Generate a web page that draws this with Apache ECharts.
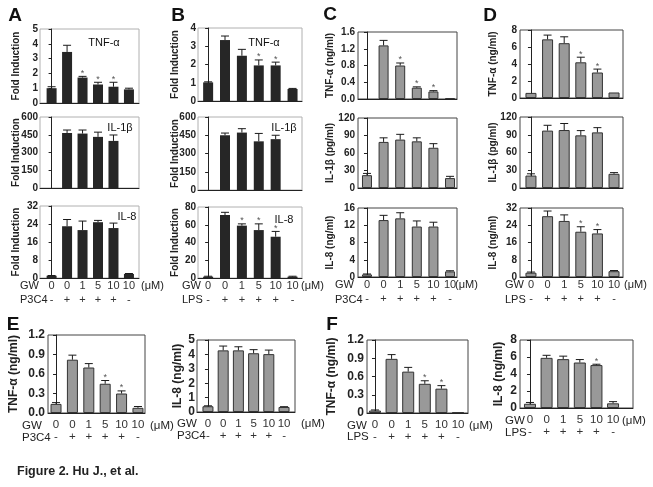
<!DOCTYPE html>
<html><head><meta charset="utf-8">
<script src="https://cdn.jsdelivr.net/npm/echarts@6/dist/echarts.min.js"></script>
<style>html,body{margin:0;padding:0;background:#fff}#c{width:653px;height:487px}</style>
</head><body><div id="c"></div>
<script>
// ---------- shared categories ----------
const doses = ['0','0','1','5','10','10'];
const stimSigns = ['-','+','+','+','+','-'];
const catIdx = [0,1,2,3,4,5];

// ---------- Panel A (P3C4, fold induction) ----------
const aTnf     = [1.0, 3.45, 1.72, 1.25, 1.1, 0.92];
const aTnfErr  = [0.1, 0.45, 0.08, 0.15, 0.3, 0.08];
const aTnfSig  = [0,0,1,1,1,0];
const aIl1b    = [null, 465, 460, 432, 398, null];
const aIl1bErr = [null, 25, 30, 40, 50, null];
const aIl1bSig = [0,0,0,0,0,0];
const aIl8     = [1.0, 23, 21.3, 24.8, 22.2, 1.8];
const aIl8Err  = [0.1, 3, 4, 0.8, 2.2, 0.2];
const aIl8Sig  = [0,0,0,0,0,0];

// ---------- Panel B (LPS, fold induction) ----------
const bTnf     = [1.02, 3.34, 2.48, 1.95, 1.95, 0.66];
const bTnfErr  = [0.03, 0.22, 0.35, 0.3, 0.18, 0.03];
const bTnfSig  = [0,0,0,1,1,0];
const bIl1b    = [null, 450, 472, 400, 418, null];
const bIl1bErr = [null, 18, 32, 65, 32, null];
const bIl1bSig = [0,0,0,0,0,0];
const bIl8     = [1.5, 71, 59, 54, 46.5, 1.5];
const bIl8Err  = [0.5, 3, 2, 7, 6, 0.5];
const bIl8Sig  = [0,0,1,1,1,0];

// ---------- Panel C (P3C4, ng/ml) ----------
const cTnf     = [null, 1.28, 0.8, 0.27, 0.18, 0.02];
const cTnfErr  = [null, 0.12, 0.06, 0.02, 0.02, 0];
const cTnfSig  = [0,0,1,1,1,0];
const cIl1b    = [22, 79, 83, 80, 69, 17];
const cIl1bErr = [3, 7, 9, 6, 7, 3];
const cIl1bSig = [0,0,0,0,0,0];
const cIl8     = [0.6, 13.2, 13.6, 11.7, 11.7, 1.3];
const cIl8Err  = [0.1, 1.1, 1.3, 1.3, 1.0, 0.15];
const cIl8Sig  = [0,0,0,0,0,0];

// ---------- Panel D (LPS, ng/ml) ----------
const dTnf     = [0.6, 6.9, 6.45, 4.2, 3.0, 0.65];
const dTnfErr  = [0, 0.5, 0.75, 0.6, 0.4, 0];
const dTnfSig  = [0,0,0,1,1,0];
const dIl1b    = [21, 97, 98, 89, 94, 24];
const dIl1bErr = [3, 9, 11, 8, 8, 2];
const dIl1bSig = [0,0,0,0,0,0];
const dIl8     = [2, 28.2, 26, 21, 20.2, 2.7];
const dIl8Err  = [0.3, 2.4, 2.8, 2.3, 1.8, 0.3];
const dIl8Sig  = [0,0,0,1,1,0];

// ---------- Panel E (P3C4) ----------
const eTnf     = [0.14, 0.82, 0.70, 0.45, 0.30, 0.08];
const eTnfErr  = [0.02, 0.07, 0.06, 0.05, 0.04, 0.02];
const eTnfSig  = [0,0,0,1,1,0];
const eIl8     = [0.4, 4.28, 4.28, 4.08, 4.02, 0.35];
const eIl8Err  = [0.03, 0.3, 0.25, 0.25, 0.28, 0.02];
const eIl8Sig  = [0,0,0,0,0,0];

// ---------- Panel F (LPS) ----------
const fTnf     = [0.04, 0.89, 0.68, 0.48, 0.40, 0.01];
const fTnfErr  = [0.01, 0.07, 0.07, 0.05, 0.05, 0];
const fTnfSig  = [0,0,0,1,1,0];
const fIl8     = [0.5, 5.9, 5.75, 5.35, 5.05, 0.55];
const fIl8Err  = [0.15, 0.3, 0.35, 0.35, 0.1, 0.2];
const fIl8Sig  = [0,0,0,0,1,0];

const FONT = "'Liberation Sans', Arial, sans-serif";

// layout of each sub-plot (x = horizontal extent of the category scale)
const XA = [-0.75, 5.65], XB = [-0.6, 5.56], XC = [-0.54, 5.42], XD = [-0.66, 5.54];
const panels = [
  {l:40,  t:29,  w:99,  h:74, max:5,   iv:1,   dark:true, name:'Fold Induction', gap:19, lm:2, x:XA, bw:10, v:aTnf,  e:aTnfErr,  s:aTnfSig},
  {l:40,  t:117, w:99,  h:71, max:600, iv:150, dark:true, name:'Fold Induction', gap:19, lm:2, x:XA, bw:10, v:aIl1b, e:aIl1bErr, s:aIl1bSig},
  {l:40,  t:206, w:99,  h:72, max:32,  iv:8,   dark:true, name:'Fold Induction', gap:19, lm:2, x:XA, bw:10, v:aIl8,  e:aIl8Err,  s:aIl8Sig, xl:{m:1, lh:14, fs:11}},
  {l:198, t:28,  w:104, h:73, max:4,   iv:1,   dark:true, name:'Fold Induction', gap:18, lm:2, x:XB, bw:10, v:bTnf,  e:bTnfErr,  s:bTnfSig},
  {l:198, t:117, w:104, h:73, max:600, iv:150, dark:true, name:'Fold Induction', gap:18, lm:2, x:XB, bw:10, v:bIl1b, e:bIl1bErr, s:bIl1bSig},
  {l:198, t:207, w:104, h:71, max:80,  iv:20,  dark:true, name:'Fold Induction', gap:18, lm:2, x:XB, bw:10, v:bIl8,  e:bIl8Err,  s:bIl8Sig, xl:{m:1, lh:14, fs:11}},
  {l:358, t:32,  w:99,  h:67, max:1.6, iv:0.4, name:'TNF-α (ng/ml)', gap:23, lm:3, x:XC, bw:10, v:cTnf,  e:cTnfErr,  s:cTnfSig, fix:1},
  {l:358, t:118, w:99,  h:70, max:120, iv:30,  name:'IL-1β (pg/ml)', gap:23, lm:3, x:XC, bw:10, v:cIl1b, e:cIl1bErr, s:cIl1bSig},
  {l:358, t:208, w:99,  h:69, max:16,  iv:4,   name:'IL-8 (ng/ml)',  gap:23, lm:3, x:XC, bw:10, v:cIl8,  e:cIl8Err,  s:cIl8Sig, xl:{m:1, lh:14, fs:11}},
  {l:520, t:30,  w:103, h:68, max:8,   iv:2,   name:'TNF-α (ng/ml)', gap:22, lm:3, x:XD, bw:11, v:dTnf,  e:dTnfErr,  s:dTnfSig},
  {l:520, t:117, w:103, h:71, max:120, iv:30,  name:'IL-1β (pg/ml)', gap:22, lm:3, x:XD, bw:11, v:dIl1b, e:dIl1bErr, s:dIl1bSig},
  {l:520, t:208, w:103, h:69, max:32,  iv:8,   name:'IL-8 (ng/ml)',  gap:22, lm:3, x:XD, bw:11, v:dIl8,  e:dIl8Err,  s:dIl8Sig, xl:{m:1, lh:14, fs:11}},
  {l:48,  t:335, w:97,  h:78, max:1.2, iv:0.3, name:'TNF-α (ng/ml)', gap:28, lm:3, x:[-0.49,5.43], bw:11, v:eTnf, e:eTnfErr, s:eTnfSig, fix:1, big:true, xl:{m:6, lh:12, fs:11.5}},
  {l:197, t:340, w:98,  h:72, max:5,   iv:1,   name:'IL-8 (ng/ml)',  gap:13, lm:2, x:[-0.72,5.72], bw:11, v:eIl8, e:eIl8Err, s:eIl8Sig, big:true, xl:{m:6, lh:12, fs:11.5}},
  {l:367, t:340, w:101, h:73, max:1.2, iv:0.3, name:'TNF-α (ng/ml)', gap:29, lm:3, x:[-0.48,5.6],  bw:12, v:fTnf, e:fTnfErr, s:fTnfSig, big:true, xl:{m:6, lh:12, fs:11.5}},
  {l:520, t:340, w:113, h:68, max:8,   iv:2,   name:'IL-8 (ng/ml)',  gap:15, lm:3, x:[-0.6,6.2],   bw:12, v:fIl8, e:fIl8Err, s:fIl8Sig, big:true, xl:{m:6, lh:12, fs:11.5}}
];

function errRender(params, api) {
  const i = api.value(0), v = api.value(1), e = api.value(2), s = api.value(3);
  const p0 = api.coord([i, v]);
  const p1 = api.coord([i, v + (e || 0)]);
  const ch = [];
  if (e > 0) {
    ch.push({type:'line', shape:{x1:p0[0], y1:p0[1], x2:p1[0], y2:p1[1]}, style:{stroke:'#1a1a1a', lineWidth:1}});
    ch.push({type:'line', shape:{x1:p1[0]-4, y1:p1[1], x2:p1[0]+4, y2:p1[1]}, style:{stroke:'#1a1a1a', lineWidth:1}});
  }
  if (s) {
    ch.push({type:'text', x:p1[0], y:p1[1]-3, style:{text:'*', fill:'#555', font:'9px ' + FONT, align:'center', verticalAlign:'middle'}});
  }
  return {type:'group', children:ch};
}

const grid = [], xAxis = [], yAxis = [], series = [];
panels.forEach((p, k) => {
  const fs = p.big ? 12 : 10;
  grid.push({left:p.l, top:p.t, width:p.w, height:p.h, show:true, borderWidth:1,
             borderColor: p.dark ? '#b0b0b0' : '#444', backgroundColor:'transparent'});
  xAxis.push({type:'value', gridIndex:k, min:p.x[0], max:p.x[1],
    axisLine:{show:true, onZero:false, lineStyle:{color:'#222', width:1}}, axisTick:{show:false},
    splitLine:{show:false},
    axisLabel: p.xl ? {show:true, customValues:catIdx, margin:p.xl.m, lineHeight:p.xl.lh, fontSize:p.xl.fs,
      fontFamily:FONT, color:'#333', formatter:(val) => doses[Math.round(val)] + '\n' + stimSigns[Math.round(val)]} : {show:false}});
  yAxis.push({type:'value', gridIndex:k, min:0, max:p.max, interval:p.iv,
    name:p.name, nameLocation:'middle', nameGap:p.gap, nameMoveOverlap:false,
    nameTextStyle:{fontFamily:FONT, fontWeight:'bold', fontSize:fs, color:'#222'},
    axisLine:{show:true, lineStyle:{color:'#222', width:1}},
    axisTick:{show:true, length:3, lineStyle:{color:'#222'}},
    splitLine:{show:false},
    axisLabel:{fontFamily:FONT, fontWeight:'bold', fontSize:fs, color:'#222', margin:p.lm,
      formatter: p.fix ? (v => v.toFixed(p.fix)) : null}});
  series.push({type:'bar', xAxisIndex:k, yAxisIndex:k, barWidth:p.bw,
    data:p.v.map((val, i) => [catIdx[i], val]),
    itemStyle: p.dark ? {color:'#262626'} : {color:'#999999', borderColor:'#333', borderWidth:1},
    silent:true, animation:false});
  series.push({type:'custom', xAxisIndex:k, yAxisIndex:k, renderItem:errRender,
    data:p.v.map((val, i) => [catIdx[i], val, p.e[i], p.s[i]]).filter(d => d[1] !== null),
    encode:{x:0, y:1}, silent:true, animation:false, z:5});
});

function txt(x, y, text, opt) {
  return Object.assign({type:'text', x:x, y:y, silent:true,
    style:Object.assign({text:text, fill:'#222', font:'11px ' + FONT, textAlign:'left', textVerticalAlign:'middle'}, opt || {})});
}
const big = {font:'bold 19px ' + FONT, fill:'#111', textAlign:'center'};
const inl = {font:'11px ' + FONT, fill:'#111', textAlign:'center'};
const f2 = {font:'11.5px ' + FONT};
const graphic = [
  txt(15, 16, 'A', big), txt(178, 16, 'B', big), txt(330, 15, 'C', big), txt(490, 16, 'D', big),
  txt(13, 325, 'E', big), txt(332, 325, 'F', big),
  txt(104, 43, 'TNF-α', inl), txt(120, 128, 'IL-1β', inl), txt(127, 217, 'IL-8', inl),
  txt(264, 43, 'TNF-α', inl), txt(284, 128, 'IL-1β', inl), txt(284, 220, 'IL-8', inl),
  // x-row labels
  txt(20, 286, 'GW'), txt(20, 300, 'P3C4'), txt(141, 286, '(μM)'),
  txt(182, 286, 'GW'), txt(182, 300, 'LPS'), txt(301, 286, '(μM)'),
  txt(335, 285, 'GW'), txt(335, 300, 'P3C4'), txt(455, 285, '(μM)'),
  txt(505, 285, 'GW'), txt(505, 300, 'LPS'), txt(624, 285, '(μM)'),
  txt(22, 426, 'GW', f2), txt(22, 438, 'P3C4', f2), txt(150, 426, '(μM)', f2),
  txt(177, 424, 'GW', f2), txt(177, 436, 'P3C4', f2), txt(301, 424, '(μM)', f2),
  txt(347, 426, 'GW', f2), txt(347, 437, 'LPS', f2), txt(469, 426, '(μM)', f2),
  txt(505, 421, 'GW', f2), txt(505, 433, 'LPS', f2), txt(622, 421, '(μM)', f2),
  txt(17, 472, 'Figure 2. Hu J., et al.', {font:'bold 12.5px ' + FONT, fill:'#222'})
];

const chart = echarts.init(document.getElementById('c'), null, {renderer:'canvas'});
chart.setOption({animation:false, backgroundColor:'#fff', grid, xAxis, yAxis, series, graphic});
</script></body></html>
